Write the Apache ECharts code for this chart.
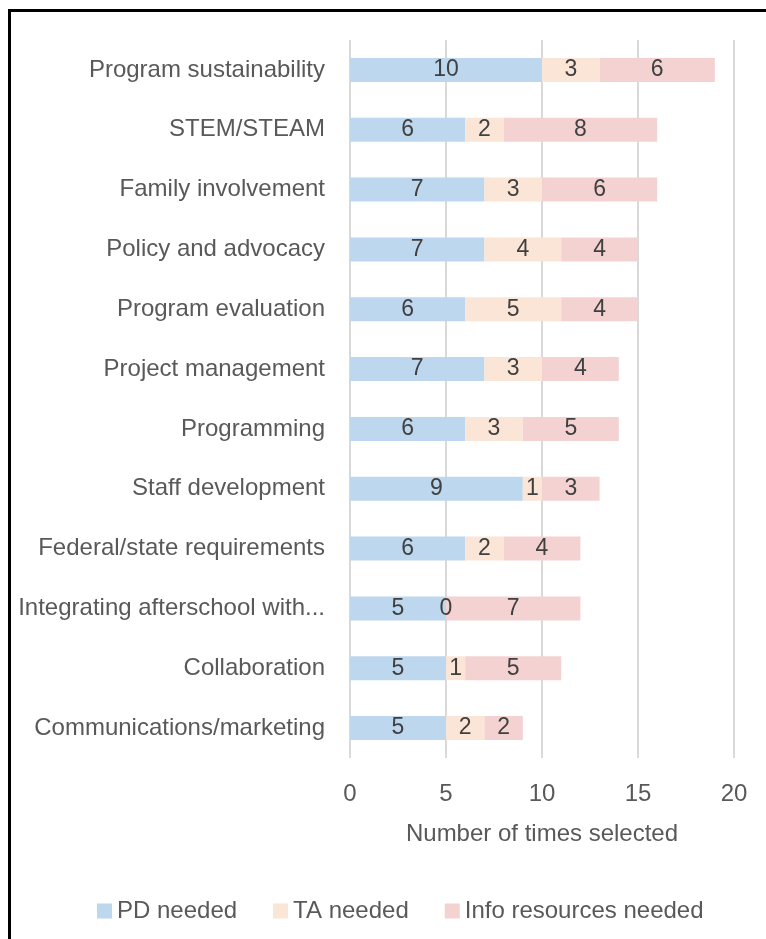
<!DOCTYPE html>
<html>
<head>
<meta charset="utf-8">
<script src="https://cdn.jsdelivr.net/npm/echarts@6/dist/echarts.min.js"></script>
<style>
  html, body { margin: 0; padding: 0; background: #fff; }
  #frame { position: absolute; left: 8px; top: 9px; width: 770px; height: 940px;
           border-left: 3px solid #000; border-top: 3px solid #000; }
  #chart { position: absolute; left: 0; top: 0; width: 766px; height: 939px; }
</style>
</head>
<body>
<div id="frame"></div>
<div id="chart"></div>
<script>
const categories = ['Program sustainability', 'STEM/STEAM', 'Family involvement', 'Policy and advocacy',
  'Program evaluation', 'Project management', 'Programming', 'Staff development',
  'Federal/state requirements', 'Integrating afterschool with...', 'Collaboration', 'Communications/marketing'];
const pdNeeded   = [10, 6, 7, 7, 6, 7, 6, 9, 6, 5, 5, 5];
const taNeeded   = [3, 2, 3, 4, 5, 3, 3, 1, 2, 0, 1, 2];
const infoNeeded = [6, 8, 6, 4, 4, 4, 5, 3, 4, 7, 5, 2];
const xTicks = [0, 5, 10, 15, 20];

const font = 'Liberation Sans';
const chart = echarts.init(document.getElementById('chart'));

function bar(name, data, color) {
  return {
    name: name,
    type: 'bar',
    stack: 'total',
    barWidth: '40%',
    data: data,
    itemStyle: { color: color },
    label: { show: true, position: 'inside', color: '#404040', fontSize: 23, fontFamily: font },
    emphasis: { disabled: true }
  };
}

chart.setOption({
  animation: false,
  backgroundColor: 'transparent',
  grid: { left: 350, right: 32, top: 40, bottom: 181 },
  legend: {
    top: 894,
    left: 92,
    itemWidth: 15,
    itemHeight: 15,
    itemGap: 36,
    icon: 'rect',
    textStyle: { color: '#595959', fontSize: 24, fontFamily: font },
    data: ['PD needed', 'TA needed', 'Info resources needed']
  },
  xAxis: {
    type: 'value',
    min: xTicks[0],
    max: xTicks[xTicks.length - 1],
    interval: 5,
    name: 'Number of times selected',
    nameLocation: 'middle',
    nameGap: 64,
    nameTextStyle: { color: '#595959', fontSize: 24, fontFamily: font },
    axisLine: { show: false },
    axisTick: { show: false },
    axisLabel: { color: '#595959', fontSize: 24, fontFamily: font, margin: 24 },
    splitLine: { lineStyle: { color: '#D9D9D9', width: 2 } }
  },
  yAxis: {
    type: 'category',
    inverse: true,
    data: categories,
    axisLine: { show: false },
    axisTick: { show: false },
    axisLabel: { color: '#595959', fontSize: 24, fontFamily: font, margin: 25 }
  },
  series: [
    bar('PD needed', pdNeeded, '#BDD7EE'),
    bar('TA needed', taNeeded, '#FBE5D6'),
    bar('Info resources needed', infoNeeded, '#F4D2D2')
  ]
});
</script>
</body>
</html>
